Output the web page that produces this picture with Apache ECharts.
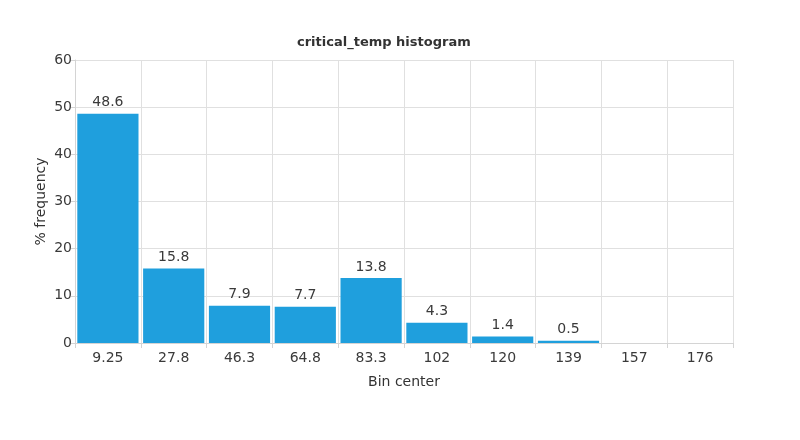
<!DOCTYPE html>
<html>
<head>
<meta charset="utf-8">
<script src="https://cdn.jsdelivr.net/npm/echarts@6/dist/echarts.min.js"></script>
<style>
  html, body { margin: 0; padding: 0; background: #fff; }
  #root { width: 800px; height: 440px; }
</style>
</head>
<body>
<div id="root"></div>
<script>
// bin centres and % frequency per bin
var binCenters = ['9.25', '27.8', '46.3', '64.8', '83.3', '102', '120', '139', '157', '176'];
var freqPct = [48.6, 15.8, 7.9, 7.7, 13.8, 4.3, 1.4, 0.5, 0, 0];
var yTicks = [0, 60, 10]; // min, max, interval

var fontFam = '"DejaVu Sans", Verdana, sans-serif';

var option = {
  animation: false,
  textStyle: { fontFamily: fontFam },
  title: {
    text: 'critical_temp histogram',
    left: 292,
    top: 31,
    textStyle: { fontSize: 13, fontWeight: 'bold', color: '#333', fontFamily: fontFam }
  },
  grid: { left: 75, right: 67, top: 60, bottom: 97 },
  xAxis: {
    type: 'category',
    data: binCenters,
    name: 'Bin center',
    nameLocation: 'middle',
    nameGap: 32,
    nameTextStyle: { fontSize: 14, color: '#333' },
    axisLine: { lineStyle: { color: '#d4d4d4' } },
    axisTick: { show: true, alignWithLabel: false, length: 5, lineStyle: { color: '#d4d4d4' } },
    axisLabel: { fontSize: 14, color: '#3a3a3a', margin: 8 },
    splitLine: { show: true, lineStyle: { color: '#e0e0e0' } }
  },
  yAxis: {
    type: 'value',
    min: yTicks[0],
    max: yTicks[1],
    interval: yTicks[2],
    name: '% frequency',
    nameLocation: 'middle',
    nameGap: 27,
    nameMoveOverlap: false,
    nameRotate: 90,
    nameTextStyle: { fontSize: 14, color: '#333' },
    axisLine: { show: true, lineStyle: { color: '#d4d4d4' } },
    axisTick: { show: true, length: 4, lineStyle: { color: '#d4d4d4' } },
    axisLabel: { fontSize: 14, color: '#3a3a3a', margin: 3 },
    splitLine: { show: true, lineStyle: { color: '#e0e0e0' } }
  },
  series: [
    {
      type: 'bar',
      data: freqPct,
      barCategoryGap: '7%',
      itemStyle: { color: '#1f9fdd' },
      label: {
        show: true,
        position: 'top',
        distance: 4,
        fontSize: 14,
        color: '#3a3a3a',
        formatter: function (p) {
          return p.value > 0 ? p.value.toFixed(1) : '';
        }
      }
    }
  ]
};

var myChart = echarts.init(document.getElementById('root'));
myChart.setOption(option);
</script>
</body>
</html>
